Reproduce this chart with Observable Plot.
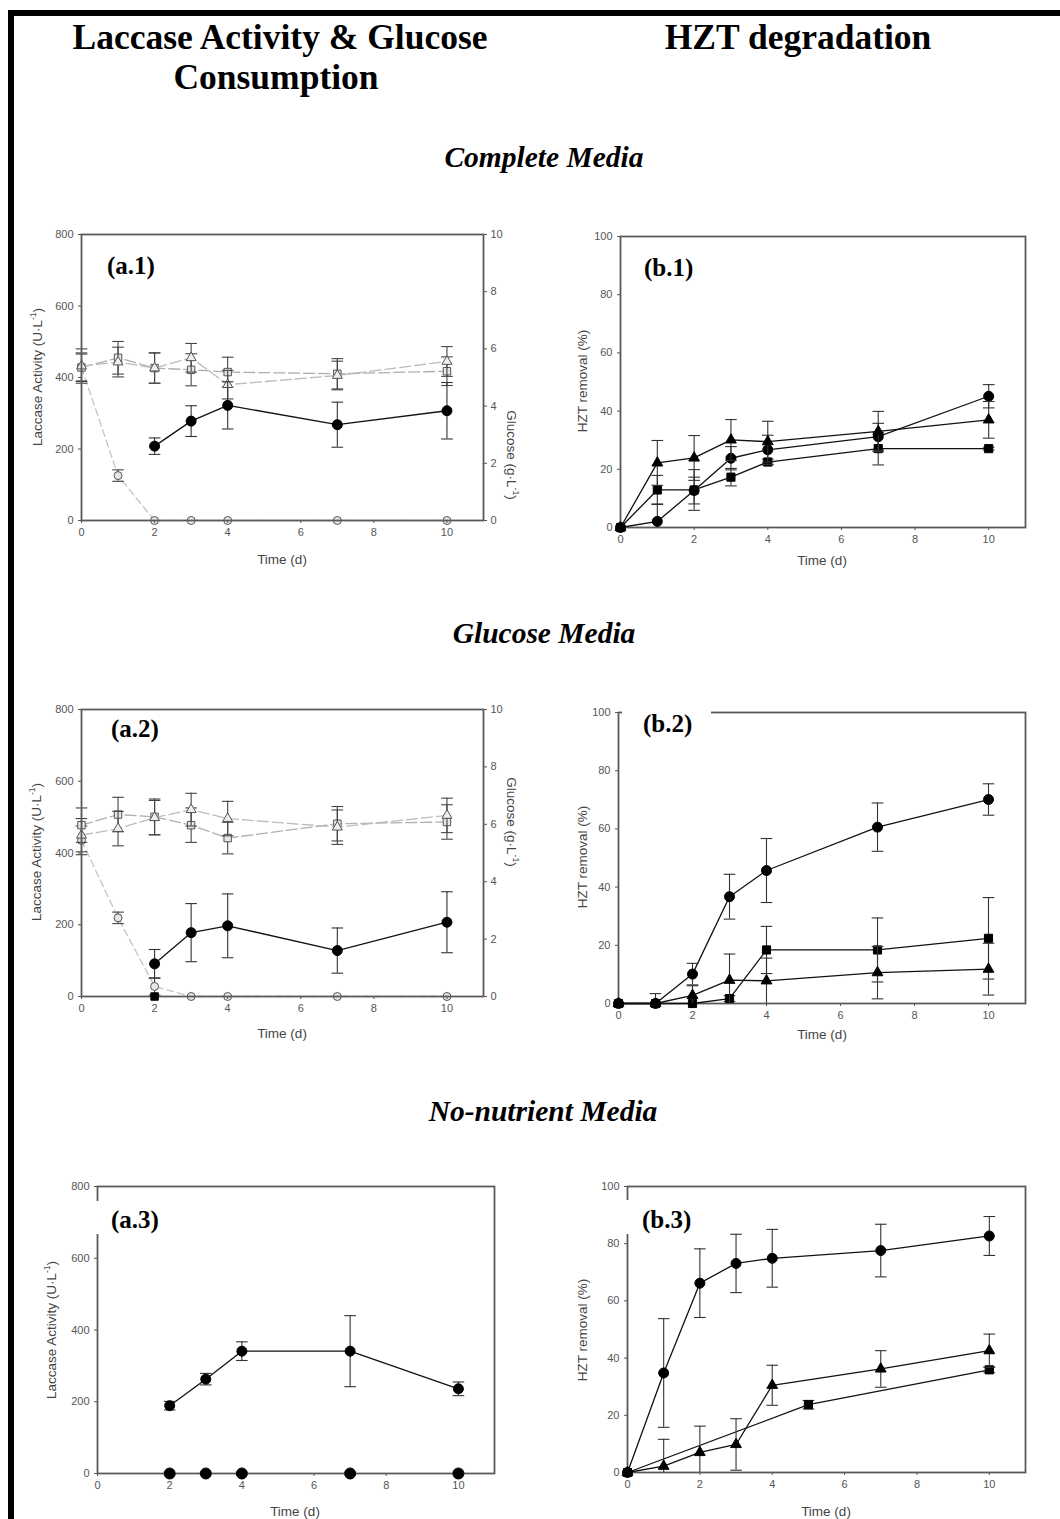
<!DOCTYPE html>
<html>
<head>
<meta charset="utf-8">
<script src="https://cdn.jsdelivr.net/npm/d3@7"></script>
<script src="https://cdn.jsdelivr.net/npm/@observablehq/plot@0.6"></script>
<style>
  body { margin: 0; background: #fff; }
  #page { position: relative; width: 1060px; height: 1519px; overflow: hidden; background: #fff; }
  .abs { position: absolute; }
  .head { font-family: "Liberation Serif", "Times New Roman", serif; font-weight: bold; font-size: 35.5px; color: #000; white-space: nowrap; transform: translate(-50%, -50%); line-height: 1; }
  .sec { font-family: "Liberation Serif", "Times New Roman", serif; font-weight: bold; font-style: italic; font-size: 29.5px; color: #000; white-space: nowrap; transform: translate(-50%, -50%); line-height: 1; }
  .plab { font-family: "Liberation Serif", "Times New Roman", serif; font-weight: bold; font-size: 25px; color: #000; white-space: nowrap; line-height: 1; }
  .box { background: #fff; }
  .axt { font-family: "Liberation Sans", Arial, sans-serif; font-size: 13.5px; color: #444; white-space: nowrap; line-height: 1; }
  .axt sup { font-size: 8.5px; vertical-align: 6px; line-height: 0; }
  .bar { background: #000; position: absolute; }
</style>
</head>
<body>
<div id="page"></div>
<script>
// ---------------- DATA ----------------
const days = [0, 1, 2, 3, 4, 7, 10];
const lacDays = [2, 3, 4, 7, 10];
const xTicks = [0, 2, 4, 6, 8, 10];
const lacTicks = [0, 200, 400, 600, 800];
const glcTicks = [0, 2, 4, 6, 8, 10];
const hztTicks = [0, 20, 40, 60, 80, 100];

// (a.1) Complete media: laccase (U/L) and glucose (g/L)
const a1Laccase = [208, 278, 322, 268, 307];
const a1LaccaseErr = [23, 43, 66, 63, 79];
const a1GlcCircle = [5.36, 1.57, 0, 0, 0, 0, 0];
const a1GlcCircleErr = [0.5, 0.2, 0, 0, 0, 0, 0];
const a1GlcSquare = [5.35, 5.69, 5.33, 5.27, 5.19, 5.13, 5.22];
const a1GlcSquareErr = [0.47, 0.57, 0.53, 0.56, 0.52, 0.53, 0.5];
const a1GlcTriangle = [5.4, 5.54, 5.33, 5.69, 4.75, 5.07, 5.56];
const a1GlcTriangleErr = [0.6, 0.52, 0.53, 0.5, 0.5, 0.5, 0.52];

// (a.2) Glucose media
const a2Laccase = [91, 178, 197, 128, 207];
const a2LaccaseErr = [40, 81, 89, 63, 85];
const a2ControlDays = [2];
const a2Control = [0];
const a2GlcCircle = [5.44, 2.74, 0.35, 0, 0, 0, 0];
const a2GlcCircleErr = [0.5, 0.2, 0.3, 0, 0, 0, 0];
const a2GlcSquare = [5.97, 6.34, 6.26, 5.97, 5.52, 6.02, 6.08];
const a2GlcSquareErr = [0.6, 0.6, 0.62, 0.6, 0.55, 0.6, 0.6];
const a2GlcTriangle = [5.62, 5.85, 6.23, 6.51, 6.2, 5.9, 6.31];
const a2GlcTriangleErr = [0.58, 0.6, 0.6, 0.57, 0.6, 0.6, 0.6];

// (a.3) No-nutrient media
const a3Laccase = [189, 263, 341, 341, 236];
const a3LaccaseErr = [12, 16, 26, 99, 19];
const a3Control = [0, 0, 0, 0, 0];

// (b.1) HZT removal (%), complete media
const b1Circle = [0, 2.1, 12.7, 23.8, 26.7, 31.2, 45.1];
const b1CircleErr = [0, 6, 4.6, 4, 5, 4.6, 4];
const b1Triangle = [0, 22.2, 23.9, 30.1, 29.5, 33, 37];
const b1TriangleErr = [0, 7.7, 7.7, 7, 7, 6.9, 6.3];
const b1Square = [0, 12.9, 12.9, 17.3, 22.5, 27.1, 27.1];
const b1SquareErr = [0, 5, 7, 3, 1, 5.6, 0.5];

// (b.2) glucose media
const b2Circle = [0, 0, 10.1, 36.7, 45.7, 60.6, 70.1];
const b2CircleErr = [0, 3.4, 3.7, 7.7, 11, 8.3, 5.4];
const b2Square = [0, 0, 0, 1.7, 18.4, 18.4, 22.4];
const b2SquareErr = [0, 0, 0, 1, 8.1, 11, 14];
const b2Triangle = [0, 0, 2.8, 8, 7.8, 10.6, 11.8];
const b2TriangleErr = [0, 0, 3.3, 9, 7.8, 9, 8.9];

// (b.3) no-nutrient media
const b3Circle = [0, 34.8, 66.2, 73.1, 74.9, 77.6, 82.7];
const b3CircleErr = [0, 19, 12, 10.2, 10.1, 9.2, 6.8];
const b3Triangle = [0, 2.2, 7, 9.8, 30.5, 36.2, 42.6];
const b3TriangleErr = [0, 9.4, 9.2, 9, 7, 6.4, 5.8];
const b3SquareDays = [0, 5, 10];
const b3Square = [0, 23.7, 35.9];
const b3SquareErr = [0, 1.5, 1];

// ---------------- HELPERS ----------------
const rows = (xs, ys, es) => xs.map((x, i) => ({x, y: ys[i], e: es ? es[i] : 0}));
const capSymbol = {
  draw(ctx, size) {
    const r = Math.sqrt(size / Math.PI);
    ctx.moveTo(-r, 0); ctx.lineTo(r, 0);
  }
};

function errMarks(data, color) {
  const d = data.filter(r => r.e > 0);
  return [
    Plot.ruleX(d, {x: "x", y1: r => Math.max(0, r.y - r.e), y2: r => r.y + r.e, stroke: color, strokeWidth: 1.1}),
    Plot.dot(d, {x: "x", y: r => r.y + r.e, symbol: capSymbol, r: 5.8, stroke: color, fill: "none", strokeWidth: 1.1}),
    Plot.dot(d.filter(r => r.y - r.e > 0), {x: "x", y: r => r.y - r.e, symbol: capSymbol, r: 5.8, stroke: color, fill: "none", strokeWidth: 1.1})
  ];
}

function series(data, symbol, opts = {}) {
  const {line = "#111", lineWidth = 1.3, dash = null, fill = "#000", stroke = "#000", r = 4.8, err = "#333", noLine = false} = opts;
  const ms = [];
  if (!noLine) ms.push(Plot.line(data, {x: "x", y: "y", stroke: line, strokeWidth: lineWidth, strokeDasharray: dash}));
  ms.push(...errMarks(data, err));
  ms.push(Plot.dot(data, {x: "x", y: "y", symbol, r, fill, stroke, strokeWidth: 1}));
  return ms;
}

const page = document.getElementById("page");
function addDiv(cls, html, left, topPx, extra = "") {
  const d = document.createElement("div");
  d.className = "abs " + cls;
  d.innerHTML = html;
  d.style.cssText += `left:${left}px;top:${topPx}px;` + extra;
  page.appendChild(d);
  return d;
}

const baseStyle = {fontFamily: "'Liberation Sans', Arial, sans-serif", fontSize: "11px", color: "#555", background: "transparent", overflow: "visible"};

function panel({x0, x1, y0, y1, yDomain, yTicks, marks, right}) {
  const L = 60, R = 45, T = 30, B = 34;
  const width = (x1 - x0) + L + R, height = (y1 - y0) + T + B;
  const common = {width, height, marginLeft: L, marginRight: R, marginTop: T, marginBottom: B, style: baseStyle};
  const wrap = document.createElement("div");
  wrap.style.cssText = `position:absolute;left:${x0 - L}px;top:${y0 - T}px;width:${width}px;height:${height}px;`;
  page.appendChild(wrap);
  if (right) {
    const g = Plot.plot({
      ...common,
      x: {domain: [0, 11], axis: null},
      y: {domain: right.domain, ticks: right.ticks, axis: "right", tickSize: 3, tickPadding: 4, label: null},
      marks: right.marks
    });
    g.style.position = "absolute"; g.style.left = "0px"; g.style.top = "0px";
    wrap.appendChild(g);
  }
  const p = Plot.plot({
    ...common,
    x: {domain: [0, 11], ticks: xTicks, tickSize: 3, tickPadding: 5, label: null},
    y: {domain: yDomain, ticks: yTicks, tickSize: 3, tickPadding: 5, label: null},
    marks: [Plot.frame({stroke: "#5a5a5a", strokeWidth: 1.8}), ...marks]
  });
  p.style.position = "absolute"; p.style.left = "0px"; p.style.top = "0px";
  wrap.appendChild(p);
}

const gCircle = {line: "#c4c4c4", dash: "7,4", fill: "#e6e6e6", stroke: "#555", r: 4, err: "#444", lineWidth: 1.3};
const gSquare = {line: "#b0b0b0", dash: "11,4", fill: "#e6e6e6", stroke: "#555", r: 4.2, err: "#444", lineWidth: 1.3};
const gTriangle = {line: "#bcbcbc", dash: "11,4", fill: "#eeeeee", stroke: "#555", r: 3.7, err: "#444", lineWidth: 1.3};

// ---------------- FRAME / HEADINGS ----------------
const topBar = document.createElement("div"); topBar.className = "bar"; topBar.style.cssText += "left:8px;top:10px;width:1052px;height:6px;"; page.appendChild(topBar);
const leftBar = document.createElement("div"); leftBar.className = "bar"; leftBar.style.cssText += "left:8px;top:10px;width:6px;height:1509px;"; page.appendChild(leftBar);

addDiv("head", "Laccase Activity &amp; Glucose", 280, 38);
addDiv("head", "Consumption", 276, 78);
addDiv("head", "HZT degradation", 798, 38);
addDiv("sec", "Complete Media", 544, 158);
addDiv("sec", "Glucose Media", 544, 634);
addDiv("sec", "No-nutrient Media", 543, 1112);

// ---------------- PANELS ----------------
// (a.1)
panel({
  x0: 81, x1: 483, y0: 234, y1: 520, yDomain: [0, 800], yTicks: lacTicks,
  right: {domain: [0, 10], ticks: glcTicks, marks: [
    ...series(rows(days, a1GlcCircle, a1GlcCircleErr), "circle", gCircle),
    ...series(rows(days, a1GlcSquare, a1GlcSquareErr), "square", gSquare),
    ...series(rows(days, a1GlcTriangle, a1GlcTriangleErr), "triangle", gTriangle)
  ]},
  marks: [...series(rows(lacDays, a1Laccase, a1LaccaseErr), "circle", {r: 5})]
});
// (b.1)
panel({
  x0: 620, x1: 1025, y0: 236, y1: 527, yDomain: [0, 100], yTicks: hztTicks,
  marks: [
    ...series(rows(days, b1Square, b1SquareErr), "square", {r: 4.6}),
    ...series(rows(days, b1Circle, b1CircleErr), "circle", {r: 5}),
    ...series(rows(days, b1Triangle, b1TriangleErr), "triangle", {r: 4})
  ]
});
// (a.2)
panel({
  x0: 81, x1: 483, y0: 709, y1: 996, yDomain: [0, 800], yTicks: lacTicks,
  right: {domain: [0, 10], ticks: glcTicks, marks: [
    ...series(rows(days, a2GlcCircle, a2GlcCircleErr), "circle", gCircle),
    ...series(rows(days, a2GlcSquare, a2GlcSquareErr), "square", gSquare),
    ...series(rows(days, a2GlcTriangle, a2GlcTriangleErr), "triangle", gTriangle)
  ]},
  marks: [
    ...series(rows(a2ControlDays, a2Control), "square", {r: 4.2, noLine: true}),
    ...series(rows(lacDays, a2Laccase, a2LaccaseErr), "circle", {r: 5})
  ]
});
// (b.2)
panel({
  x0: 618, x1: 1025, y0: 712, y1: 1003, yDomain: [0, 100], yTicks: hztTicks,
  marks: [
    ...series(rows(days, b2Square, b2SquareErr), "square", {r: 4.6}),
    ...series(rows(days, b2Triangle, b2TriangleErr), "triangle", {r: 4}),
    ...series(rows(days, b2Circle, b2CircleErr), "circle", {r: 5})
  ]
});
// (a.3)
panel({
  x0: 97, x1: 494, y0: 1186, y1: 1473, yDomain: [0, 800], yTicks: lacTicks,
  marks: [
    ...series(rows(lacDays, a3Control), "circle", {r: 5.5, noLine: true}),
    ...series(rows(lacDays, a3Laccase, a3LaccaseErr), "circle", {r: 5})
  ]
});
// (b.3)
panel({
  x0: 627, x1: 1025, y0: 1186, y1: 1472, yDomain: [0, 100], yTicks: hztTicks,
  marks: [
    ...series(rows(b3SquareDays, b3Square, b3SquareErr), "square", {r: 4.6}),
    ...series(rows(days, b3Triangle, b3TriangleErr), "triangle", {r: 4}),
    ...series(rows(days, b3Circle, b3CircleErr), "circle", {r: 5})
  ]
});

// ---------------- PANEL LABELS ----------------
addDiv("plab", "(a.1)", 107, 253);
addDiv("plab", "(b.1)", 644, 255);
addDiv("plab", "(a.2)", 111, 716);
addDiv("plab box", "(b.2)", 622, 705, "padding:6px 19px 4px 21px;");
addDiv("plab box", "(a.3)", 95, 1201, "padding:6px 6px 2px 16px;");
addDiv("plab box", "(b.3)", 625, 1200, "padding:7px 6px 2px 17px;");

// ---------------- AXIS TITLES ----------------
const lacLabel = "Laccase Activity (U·L<sup>-1</sup>)";
const hztLabel = "HZT removal (%)";
const glcLabel = "Glucose (g·L<sup>-1</sup>)";
const timeLabel = "Time (d)";
function axisTitle(html, cx, cy, rot) {
  const d = addDiv("axt", html, cx, cy);
  d.style.transform = `translate(-50%, -50%)` + (rot ? ` rotate(${rot}deg)` : "");
}
axisTitle(lacLabel, 38, 377, -90);
axisTitle(timeLabel, 282, 560);
axisTitle(glcLabel, 511, 455, 90);
axisTitle(hztLabel, 583, 381, -90);
axisTitle(timeLabel, 822, 561);

axisTitle(lacLabel, 37, 852, -90);
axisTitle(timeLabel, 282, 1034);
axisTitle(glcLabel, 511, 822, 90);
axisTitle(hztLabel, 583, 857, -90);
axisTitle(timeLabel, 822, 1035);

axisTitle(lacLabel, 52, 1330, -90);
axisTitle(timeLabel, 295, 1512);
axisTitle(hztLabel, 583, 1330, -90);
axisTitle(timeLabel, 826, 1512);
</script>
</body>
</html>
